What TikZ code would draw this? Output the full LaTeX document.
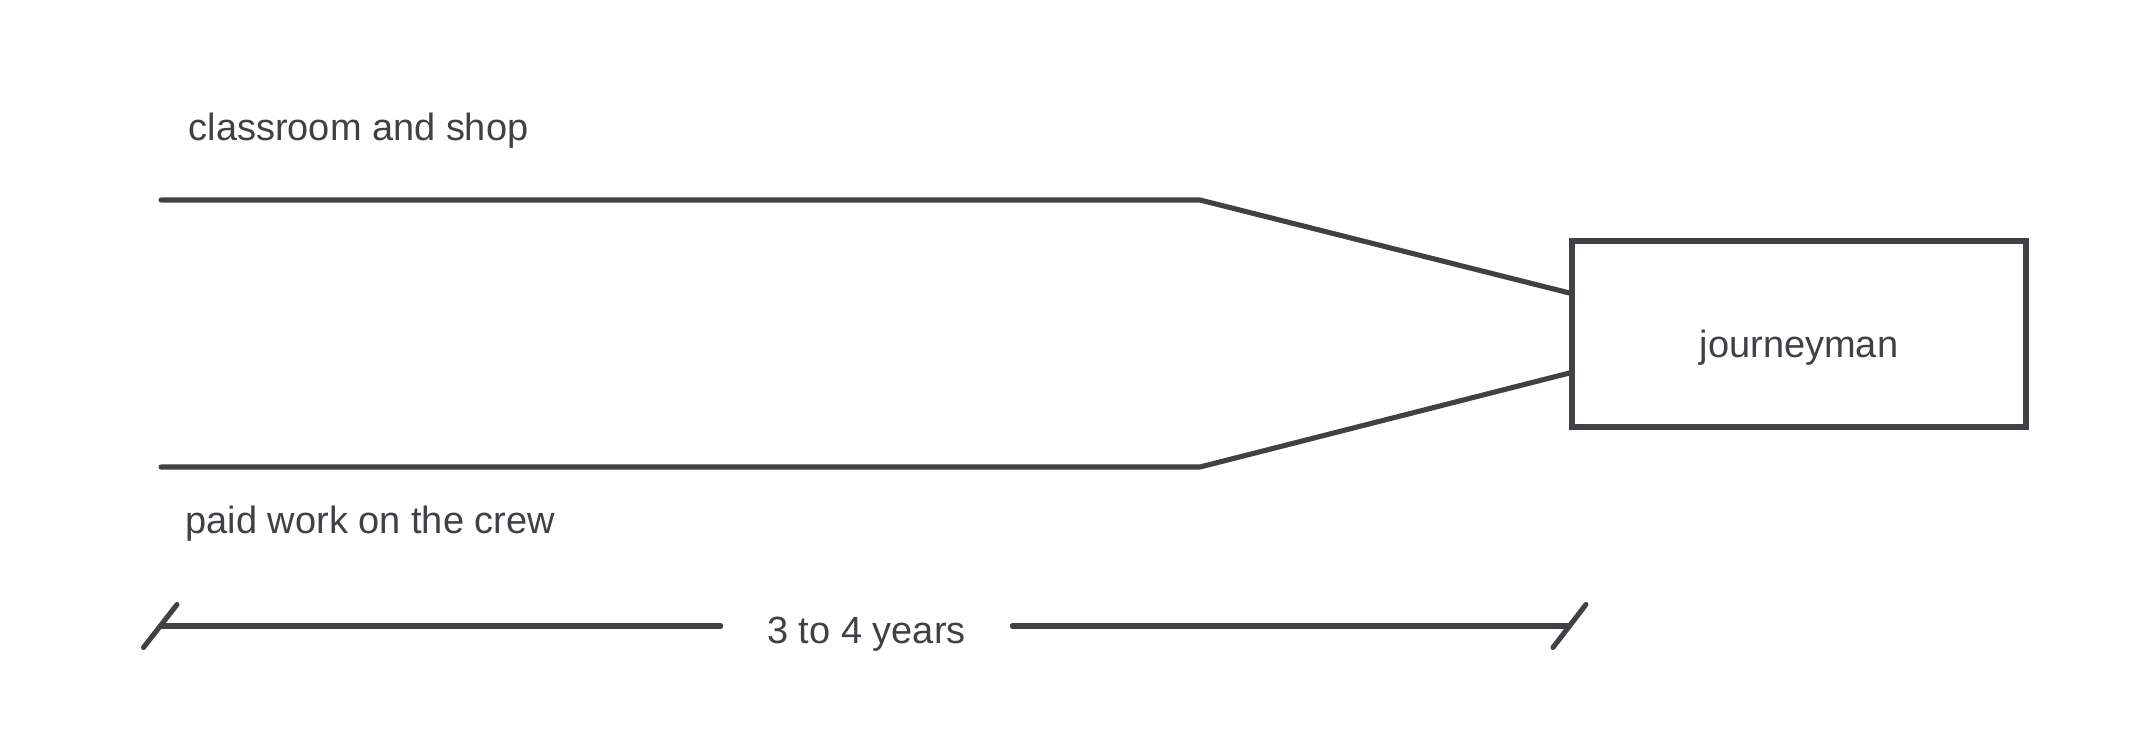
\documentclass[tikz,border=0pt]{standalone}
\usepackage{fontspec}
\setmainfont{Liberation Sans}
\usepackage{xcolor}
\usetikzlibrary{positioning, calc}
\definecolor{Ink}{HTML}{404045}

\begin{document}
\begin{tikzpicture}[
    track_line/.style={
        draw=Ink,
        line width=1.45pt,
        line cap=round,
        line join=round
    },
    stage_box/.style={
        draw=Ink,
        line width=1.45pt,
        minimum width=4.54cm,
        minimum height=1.86cm,
        inner sep=0pt
    },
    note_text/.style={
        font=\fontsize{10.8}{13}\selectfont,
        color=Ink,
        inner sep=0pt
    }
]
\useasboundingbox (0,0) rectangle (21.33,7.47);

% =========================
% TRACKS
% =========================
\node[stage_box] (journeyman) at (17.99,4.13) {};
\node[note_text, anchor=base] at ($(journeyman.center)+(0,-0.235)$) {journeyman};

\coordinate (top_start) at (1.61,5.47);
\coordinate (top_bend) at (12.0,5.47);
\coordinate (low_start) at (1.61,2.80);
\coordinate (low_bend) at (12.0,2.80);

\draw[track_line] (top_start) -- (top_bend) -- ($(journeyman.west)+(0,0.41)$);
\draw[track_line] (low_start) -- (low_bend) -- ($(journeyman.west)+(0,-0.39)$);

\node[note_text, anchor=base west] at ($(top_start)+(0.27,0.59)$) {classroom and shop};
\node[note_text, anchor=base west] at ($(low_start)+(0.24,-0.66)$) {paid work on the crew};

% =========================
% DURATION
% =========================
\coordinate (span_left) at (1.61,1.21);
\coordinate (span_right) at (journeyman.west |- span_left);
\node[note_text, inner xsep=0.46cm, anchor=base] (span_label) at (8.665,1.04) {3 to 4 years};

\draw[track_line] (span_left) -- (span_label.west |- span_left);
\draw[track_line] (span_label.east |- span_left) -- (span_right);
\draw[track_line] ($(span_left)+(-0.175,-0.215)$) -- ($(span_left)+(0.16,0.215)$);
\draw[track_line] ($(span_right)+(-0.165,-0.215)$) -- ($(span_right)+(0.165,0.215)$);

\end{tikzpicture}
\end{document}
